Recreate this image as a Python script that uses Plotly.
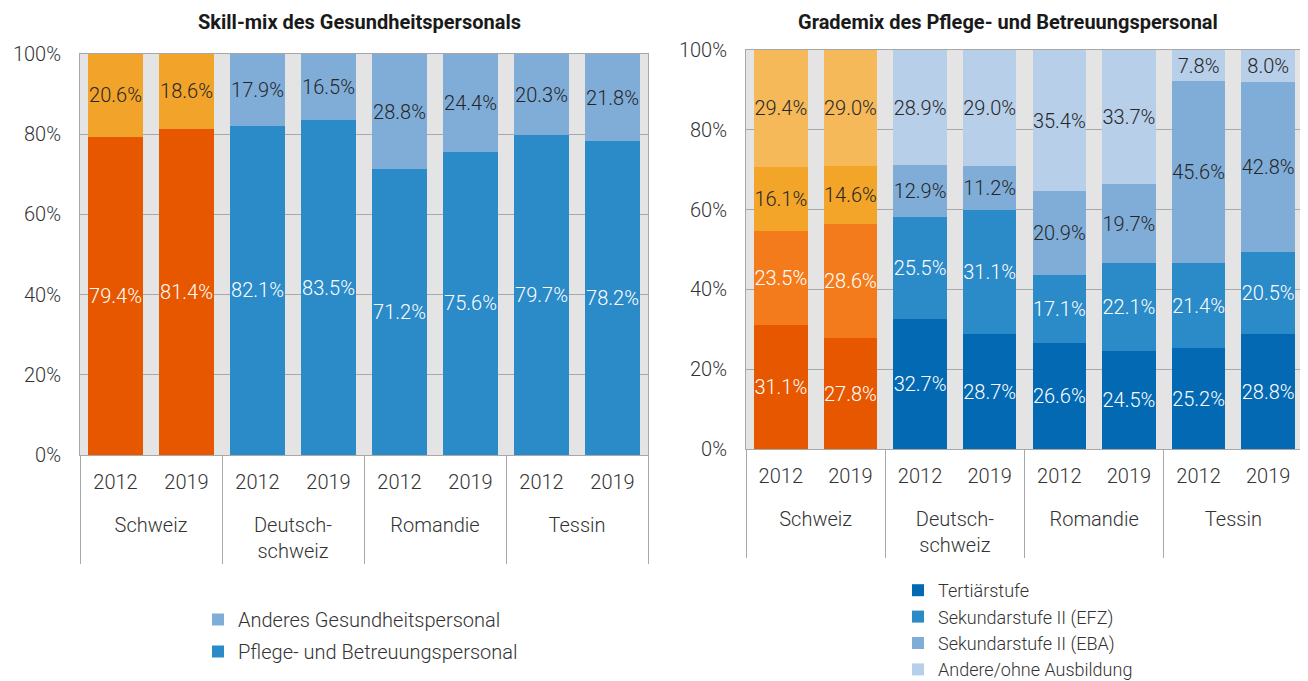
import plotly.graph_objects as go

# ---------------- data ----------------
regions = ["Schweiz", "Deutsch-<br>schweiz", "Romandie", "Tessin"]
years = ["2012", "2019"]

# Left chart: Skill-mix des Gesundheitspersonals
pflege = {"Schweiz": [79.4, 81.4], "Deutsch-<br>schweiz": [82.1, 83.5],
          "Romandie": [71.2, 75.6], "Tessin": [79.7, 78.2]}
anderes = {"Schweiz": [20.6, 18.6], "Deutsch-<br>schweiz": [17.9, 16.5],
           "Romandie": [28.8, 24.4], "Tessin": [20.3, 21.8]}

# Right chart: Grademix des Pflege- und Betreuungspersonal
tertiaer = {"Schweiz": [31.1, 27.8], "Deutsch-<br>schweiz": [32.7, 28.7],
            "Romandie": [26.6, 24.5], "Tessin": [25.2, 28.8]}
efz = {"Schweiz": [23.5, 28.6], "Deutsch-<br>schweiz": [25.5, 31.1],
       "Romandie": [17.1, 22.1], "Tessin": [21.4, 20.5]}
eba = {"Schweiz": [16.1, 14.6], "Deutsch-<br>schweiz": [12.9, 11.2],
       "Romandie": [20.9, 19.7], "Tessin": [45.6, 42.8]}
andere = {"Schweiz": [29.4, 29.0], "Deutsch-<br>schweiz": [28.9, 29.0],
          "Romandie": [35.4, 33.7], "Tessin": [7.8, 8.0]}

# (name, data, blue colour, Schweiz colour, label colour, legend rank)
left_series = [("Pflege- und Betreuungspersonal", pflege, "#2B8AC8", "#E65700", "white", 2),
               ("Anderes Gesundheitspersonal", anderes, "#80ADD8", "#F2A32A", "#262626", 1)]
right_series = [("Tertiärstufe", tertiaer, "#0369B3", "#E65700", "white", 1),
                ("Sekundarstufe II (EFZ)", efz, "#2B8AC8", "#F47B1C", "white", 2),
                ("Sekundarstufe II (EBA)", eba, "#80ADD8", "#F3A529", "#262626", 3),
                ("Andere/ohne Ausbildung", andere, "#B8CFEA", "#F5B95A", "#262626", 4)]

FONT = "Roboto"
TXT = 20
# year tick labels carry a blank second line so the region row sits lower
YEAR_LABEL = [y + "<br>\u00a0" for y in years]

fig = go.Figure()


def add_series(series, xa, ya, legend):
    for i, (name, d, blue, orange, tcol, rank) in enumerate(series):
        # Schweiz (orange, not in legend)
        fig.add_trace(go.Bar(
            x=[["Schweiz"] * 2, YEAR_LABEL], y=d["Schweiz"],
            marker=dict(color=orange, line=dict(width=0)),
            text=[f"{v:.1f}%" for v in d["Schweiz"]],
            textposition="inside", insidetextanchor="middle", constraintext="none",
            textangle=0,
            insidetextfont=dict(color=tcol, size=TXT, family=FONT, weight=300),
            showlegend=False, name=name, xaxis=xa, yaxis=ya, hoverinfo="skip"))
        xs0, xs1, ys = [], [], []
        for r in regions[1:]:
            for yl, v in zip(YEAR_LABEL, d[r]):
                xs0.append(r); xs1.append(yl); ys.append(v)
        fig.add_trace(go.Bar(
            x=[xs0, xs1], y=ys,
            marker=dict(color=blue, line=dict(width=0)),
            text=[f"{v:.1f}%" for v in ys],
            textposition="inside", insidetextanchor="middle", constraintext="none",
            textangle=0,
            insidetextfont=dict(color=tcol, size=TXT, family=FONT, weight=300),
            name=name, legend=legend, legendgroup=legend + str(i), legendrank=rank,
            xaxis=xa, yaxis=ya, hoverinfo="skip"))


add_series(left_series, "x", "y", "legend")
add_series(right_series, "x2", "y2", "legend2")

GRID = "#A8A8A8"
axfont = dict(family=FONT, size=20, color="#333333", weight=300)

xcommon = dict(type="multicategory", showline=True, linecolor=GRID, mirror=True,
               showdividers=True, dividercolor=GRID, dividerwidth=1,
               tickfont=axfont, ticks="", showgrid=False, fixedrange=True,
               automargin=False, tickangle=0, ticklabelstandoff=9)
ycommon = dict(range=[0, 100], dtick=20, ticksuffix="%", showgrid=True, gridcolor=GRID,
               gridwidth=1, showline=True, linecolor=GRID, mirror=True,
               tickfont=axfont, ticklabelstandoff=14, zeroline=False, fixedrange=True,
               automargin=False)

# page body has an 8px margin: screen px -> figure px
OFF = 8
W = 1300
H = 700


def px(x):
    return (x - OFF) / W


def py(y):
    return 1 - (y - OFF) / H


fig.update_layout(
    width=W, height=H,
    margin=dict(l=0, r=0, t=0, b=0, autoexpand=False),
    paper_bgcolor="white", plot_bgcolor="#E4E4E4",
    barmode="stack", bargap=0.23,
    font=dict(family=FONT, color="#333333"),
    xaxis=dict(domain=[px(80), px(648)], anchor="y", **xcommon),
    yaxis=dict(domain=[py(455), py(54)], anchor="x", **ycommon),
    xaxis2=dict(domain=[px(746), px(1303)], anchor="y2", **xcommon),
    yaxis2=dict(domain=[py(449), py(50)], anchor="x2", **ycommon),
    legend=dict(x=px(198), y=py(600), xanchor="left", yanchor="top",
                traceorder="grouped", tracegroupgap=3,
                font=dict(family=FONT, size=20, color="#333333", weight=300),
                bgcolor="rgba(0,0,0,0)"),
    legend2=dict(x=px(898), y=py(572), xanchor="left", yanchor="top",
                 traceorder="grouped", tracegroupgap=0,
                 font=dict(family=FONT, size=18, color="#333333", weight=300),
                 bgcolor="rgba(0,0,0,0)"),
    annotations=[
        dict(text="<b>Skill-mix des Gesundheitspersonals</b>", x=px(359), y=py(22),
             xref="paper", yref="paper", showarrow=False, xanchor="center", yanchor="middle",
             font=dict(family=FONT, size=20, color="#1a1a1a")),
        dict(text="<b>Grademix des Pflege- und Betreuungspersonal</b>", x=px(1008), y=py(22),
             xref="paper", yref="paper", showarrow=False, xanchor="center", yanchor="middle",
             font=dict(family=FONT, size=20, color="#1a1a1a")),
    ],
)

fig.write_html("out.html")
